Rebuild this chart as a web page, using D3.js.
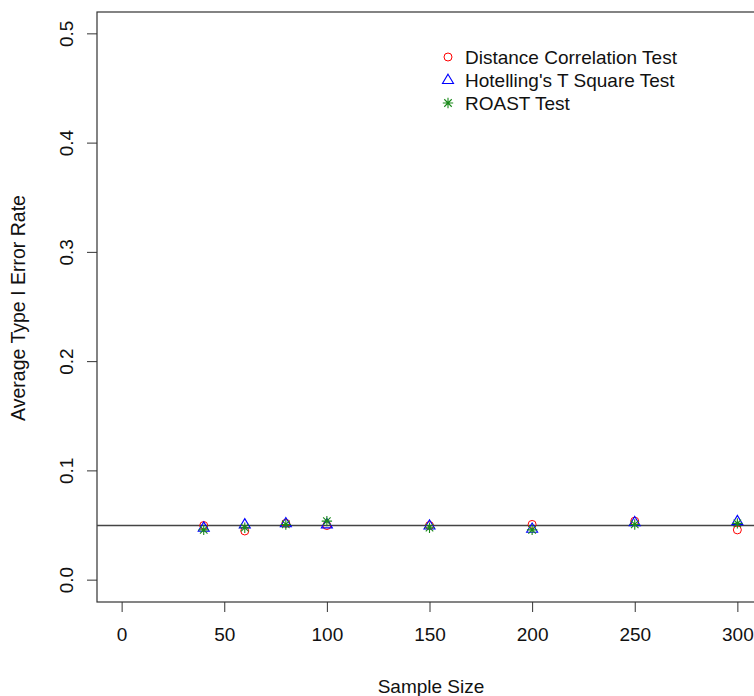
<!DOCTYPE html>
<html>
<head>
<meta charset="utf-8">
<script src="https://cdn.jsdelivr.net/npm/d3@7"></script>
<style>
  body { margin: 0; background: #fff; }
  svg { display: block; font-family: "Liberation Sans", Arial, sans-serif; }
</style>
</head>
<body>
<svg id="viz" width="754" height="696"></svg>
<script>
// ----------------------- DATA
const sampleSizes = [40, 60, 80, 100, 150, 200, 250, 300];
const dcorRate = [0.050, 0.045, 0.052, 0.050, 0.050, 0.051, 0.054, 0.046];
const hotellingRate = [0.048, 0.051, 0.052, 0.051, 0.050, 0.047, 0.053, 0.054];
const roastRate = [0.046, 0.048, 0.051, 0.054, 0.048, 0.046, 0.051, 0.052];
const xTicks = [0, 50, 100, 150, 200, 250, 300];
const yTicks = [0.0, 0.1, 0.2, 0.3, 0.4, 0.5];
const seriesNames = ['Distance Correlation Test', "Hotelling's T Square Test", 'ROAST Test'];
const refLevel = 0.05;

// ----------------------- SETTINGS
const margin = { top: 12, left: 97 };
const plotW = 665, plotH = 590;
const fontSize = 19;

const svg = d3.select('#viz');

// R style: 4% extension of the data range
const x = d3.scaleLinear().domain([-12, 312]).range([margin.left, margin.left + plotW]);
const y = d3.scaleLinear().domain([-0.02, 0.52]).range([margin.top + plotH, margin.top]);

// ----------------------- AXES
const xAxis = d3.axisBottom(x).tickValues(xTicks).tickSize(10).tickPadding(16)
  .tickFormat(d3.format('d'));
const gx = svg.append('g')
  .attr('transform', `translate(0, ${margin.top + plotH})`)
  .call(xAxis);
gx.select('.domain').remove();

const yAxis = d3.axisLeft(y).tickValues(yTicks).tickSize(10).tickFormat(d3.format('.1f'));
const gy = svg.append('g')
  .attr('transform', `translate(${margin.left}, 0)`)
  .call(yAxis);
gy.select('.domain').remove();
// rotate the y labels like R's las = 0
gy.selectAll('.tick').attr('transform', null);
gy.selectAll('.tick line').attr('y1', d => y(d)).attr('y2', d => y(d));
gy.selectAll('.tick text')
  .attr('x', 0).attr('y', 0)
  .attr('text-anchor', 'middle')
  .attr('transform', d => `translate(-31, ${y(d)}) rotate(-90)`)
  .attr('dy', '0.35em');

svg.selectAll('.tick line').attr('stroke', '#333');
svg.selectAll('.tick text').attr('font-size', fontSize).attr('fill', '#111')
  .attr('font-family', '"Liberation Sans", Arial, sans-serif');

// box
svg.append('rect')
  .attr('x', margin.left).attr('y', margin.top)
  .attr('width', plotW).attr('height', plotH)
  .attr('fill', 'none').attr('stroke', '#333').attr('stroke-width', 1.2);

// reference line
svg.append('line')
  .attr('x1', margin.left).attr('x2', margin.left + plotW)
  .attr('y1', y(refLevel)).attr('y2', y(refLevel))
  .attr('stroke', '#444').attr('stroke-width', 1.5);

// axis titles
svg.append('text')
  .attr('x', 431).attr('y', 693)
  .attr('text-anchor', 'middle').attr('font-size', fontSize).attr('fill', '#111')
  .text('Sample Size');
svg.append('text')
  .attr('transform', `translate(25, ${margin.top + plotH / 2 + 1}) rotate(-90)`)
  .attr('text-anchor', 'middle').attr('font-size', 19.5).attr('fill', '#111')
  .text('Average Type I Error Rate');

// ----------------------- MARKERS
function circle(g, cx, cy) {
  g.append('circle').attr('cx', cx).attr('cy', cy).attr('r', 4)
    .attr('fill', 'none').attr('stroke', '#ff0000').attr('stroke-width', 1);
}
function triangle(g, cx, cy) {
  const r = 5.8;
  g.append('path')
    .attr('d', `M${cx},${cy - r} L${cx + r * 0.95},${cy + r * 0.6} L${cx - r * 0.95},${cy + r * 0.6} Z`)
    .attr('fill', 'none').attr('stroke', '#0000ff').attr('stroke-width', 1.1);
}
function star(g, cx, cy) {
  const r = 5.2, d = r * 0.72;
  g.append('path')
    .attr('d', `M${cx - r},${cy} H${cx + r} M${cx},${cy - r} V${cy + r} M${cx - d},${cy - d} L${cx + d},${cy + d} M${cx - d},${cy + d} L${cx + d},${cy - d}`)
    .attr('stroke', '#1a8a1a').attr('stroke-width', 1.1);
}

const pts = svg.append('g');
sampleSizes.forEach((n, i) => {
  circle(pts, x(n), y(dcorRate[i]));
  triangle(pts, x(n), y(hotellingRate[i]));
  star(pts, x(n), y(roastRate[i]));
});

// ----------------------- LEGEND
const legend = svg.append('g');
const drawers = [circle, triangle, star];
seriesNames.forEach((name, i) => {
  const ly = 57 + i * 23;
  drawers[i](legend, 448, ly);
  legend.append('text')
    .attr('x', 465).attr('y', ly).attr('dy', '0.35em')
    .attr('font-size', fontSize).attr('fill', '#111')
    .text(name);
});
</script>
</body>
</html>
